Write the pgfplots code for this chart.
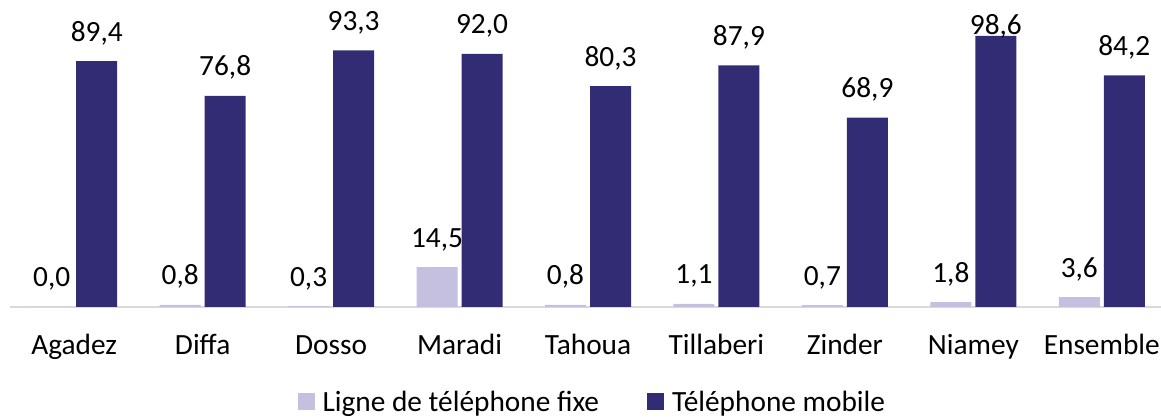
\documentclass[border=0pt]{standalone}
\usepackage{pgfplots}
\usepackage{pgfplotstable}
\pgfplotsset{compat=1.18}
\usepackage{fontspec}
\setmainfont{Carlito}
\definecolor{lightbar}{HTML}{C5C0E0}
\definecolor{darkbar}{HTML}{322C74}
\definecolor{axisgray}{HTML}{D9D9D9}
\pgfplotstableread{
x light dark dshift
0 0.0 89.4 0
1 0.8 76.8 0
2 0.3 93.3 0
3 14.5 92.0 0
4 0.8 80.3 0
5 1.1 87.9 0
6 0.7 68.9 0
7 1.8 98.6 -14
8 3.6 84.2 0
}\datatable
\begin{document}
\begin{tikzpicture}
\useasboundingbox (-7.5pt,-82.5pt) rectangle (863.25pt,230.25pt);
\begin{axis}[
  at={(0,0)}, anchor=south west,
  scale only axis,
  width=867pt, height=206.25pt,
  xmin=-0.5, xmax=8.5,
  ymin=0, ymax=100,
  ybar=3pt, bar width=30.75pt,
  axis y line=none,
  axis x line*=bottom,
  x axis line style={draw=axisgray, line width=1.1pt, -},
  xtick=data,
  xticklabels={Agadez,Diffa,Dosso,Maradi,Tahoua,Tillaberi,Zinder,Niamey,Ensemble},
  major tick length=0pt,
  xticklabel style={font=\fontsize{22}{26}\selectfont, anchor=base, yshift=-35.5pt},
  clip=false,
  nodes near coords,
  /pgf/number format/.cd, fixed, fixed zerofill, precision=1, use comma, assume math mode=true,
  /pgfplots/.cd,
  every node near coord/.append style={font=\fontsize{22}{26}\selectfont, text=black, anchor=base, yshift=15pt},
  legend style={at={(0.504,-0.345)}, anchor=center, draw=none, fill=none,
    legend columns=2, font=\fontsize{22}{26}\selectfont,
    /tikz/every odd column/.append style={column sep=4pt},
    /tikz/every even column/.append style={column sep=34pt}},
  legend image code/.code={\fill[#1] (0pt,-6.4pt) rectangle (12.75pt,6.4pt);},
]
\addplot[fill=lightbar, draw=none] table[x=x, y=light] {\datatable};
\addlegendentry{Ligne de téléphone fixe}
\addplot[fill=darkbar, draw=none,
  visualization depends on={\thisrow{dshift} \as \dshift},
  every node near coord/.append style={yshift=\dshift pt}] table[x=x, y=dark] {\datatable};
\addlegendentry{Téléphone mobile}
\end{axis}
\end{tikzpicture}
\end{document}
